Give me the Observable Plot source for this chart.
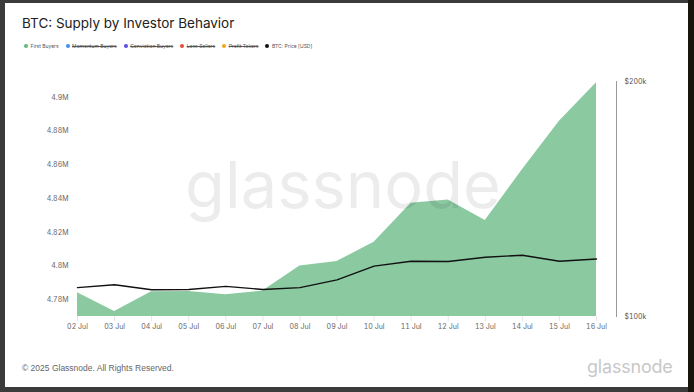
<!DOCTYPE html>
<html><head><meta charset="utf-8">
<script src="https://cdn.jsdelivr.net/npm/d3@7"></script>
<script src="https://cdn.jsdelivr.net/npm/@observablehq/plot@0.6"></script>
<style>
html,body{margin:0;padding:0;background:#3a3a3a;}
#page{position:relative;width:694px;height:392px;overflow:hidden;background:#3b3b3b;font-family:Inter,sans-serif;}
#rightstrip{position:absolute;left:688px;top:0;width:6px;height:392px;background:#17150c;}
#card{position:absolute;left:5px;top:3px;width:683px;height:384px;background:#fff;}
#title{position:absolute;left:22px;top:15px;font-size:13.5px;color:#222;white-space:nowrap;}
#legend{position:absolute;left:24px;top:43px;display:flex;gap:0;font-size:5px;color:#555;white-space:nowrap;}
#legend .it{display:flex;align-items:center;margin-right:7px;}
#legend .dot{width:4px;height:4px;border-radius:50%;margin-right:2.5px;}
#legend .off{text-decoration:line-through;}
.plot{position:absolute;left:0;top:60px;}
#wm{position:absolute;left:-4px;width:694px;top:145px;text-align:center;font-size:65px;color:rgba(0,0,0,0.075);pointer-events:none;}
#foot{position:absolute;left:22px;top:363px;font-family:"Liberation Sans",Arial,sans-serif;font-size:8.5px;color:#666;}
#logo{position:absolute;left:587px;top:356px;font-size:18px;color:#c8c8c8;letter-spacing:-0.2px;}
</style></head>
<body>
<div id="page">
  <div id="rightstrip"></div>
  <div id="card"></div>
  <div id="title">BTC: Supply by Investor Behavior</div>
  <div id="legend"></div>
  <div id="p1" class="plot"></div>
  <div id="p2" class="plot"></div>
  <div id="wm">glassnode</div>
  <div id="foot">© 2025 Glassnode. All Rights Reserved.</div>
  <div id="logo">glassnode</div>
</div>
<script>
const dates = ["2025-07-02","2025-07-03","2025-07-04","2025-07-05","2025-07-06","2025-07-07","2025-07-08","2025-07-09","2025-07-10","2025-07-11","2025-07-12","2025-07-13","2025-07-14","2025-07-15","2025-07-16"];
const firstBuyers = [4784100, 4773000, 4784700, 4784800, 4782900, 4785100, 4800000, 4802600, 4814100, 4837300, 4839100, 4827000, 4857100, 4885900, 4908800];
const btcPrice = [108900, 109800, 108200, 108300, 109300, 108300, 108900, 111400, 116000, 117700, 117600, 119100, 119800, 117700, 118500];
const supplyTicks = [4780000, 4800000, 4820000, 4840000, 4860000, 4880000, 4900000];
const priceTicks = [100000, 200000];
const legendItems = [
  {name:"First Buyers", color:"#5cb97e", on:true},
  {name:"Momentum Buyers", color:"#3d8ef0", on:false},
  {name:"Conviction Buyers", color:"#5b4cf0", on:false},
  {name:"Loss Sellers", color:"#ec4a3a", on:false},
  {name:"Profit Takers", color:"#f7a21b", on:false},
  {name:"BTC: Price [USD]", color:"#111", on:true}
];

const data = dates.map((d,i)=>({date:new Date(d+"T00:00:00Z"), supply:firstBuyers[i], price:btcPrice[i]}));
const xDomain = [data[0].date, data[data.length-1].date];
const yMin = 4770000, yMax = 4909500;

const lg = document.getElementById("legend");
legendItems.forEach(it=>{
  const el = document.createElement("div"); el.className="it";
  el.innerHTML = `<span class="dot" style="background:${it.color}"></span><span class="${it.on?"":"off"}">${it.name}</span>`;
  lg.appendChild(el);
});

const common = {width:694, height:280, marginTop:21, marginBottom:24, marginLeft:77,
  style:{background:"transparent", fontFamily:"Inter, sans-serif", fontSize:"7px", overflow:"visible"}};

const p1 = Plot.plot({
  ...common, marginRight:98,
  x:{type:"utc", domain:xDomain},
  y:{domain:[yMin,yMax]},
  marks:[
    Plot.areaY(data,{x:"date", y1:()=>yMin, y2:"supply", fill:"#8bc9a1", curve:"linear"}),
    Plot.axisX({ticks:data.map(d=>d.date), tickFormat:d3.utcFormat("%d %b"), tickSize:5, tickPadding:3, stroke:"#e6e6e6", fill:"#666", label:null}),
    Plot.axisY({ticks:supplyTicks, tickFormat:d=>`${+(d/1e6).toFixed(2)}M`, tickSize:0, tickPadding:9, fill:"#666", label:null})
  ]
});
document.getElementById("p1").appendChild(p1);

const p2 = Plot.plot({
  ...common, marginRight:78,
  x:{type:"utc", domain:xDomain, range:[77,596], axis:null},
  y:{type:"log", domain:[100000,200000]},
  marks:[
    Plot.frame({anchor:"right", stroke:"#9a9a9a"}),
    Plot.lineY(data,{x:"date", y:"price", stroke:"#111", strokeWidth:1.4}),
    Plot.axisY({anchor:"right", ticks:priceTicks, tickFormat:d=>`$${d/1000}k`, tickSize:0, tickPadding:8, fill:"#555", label:null})
  ]
});
document.getElementById("p2").appendChild(p2);
</script>
</body></html>
